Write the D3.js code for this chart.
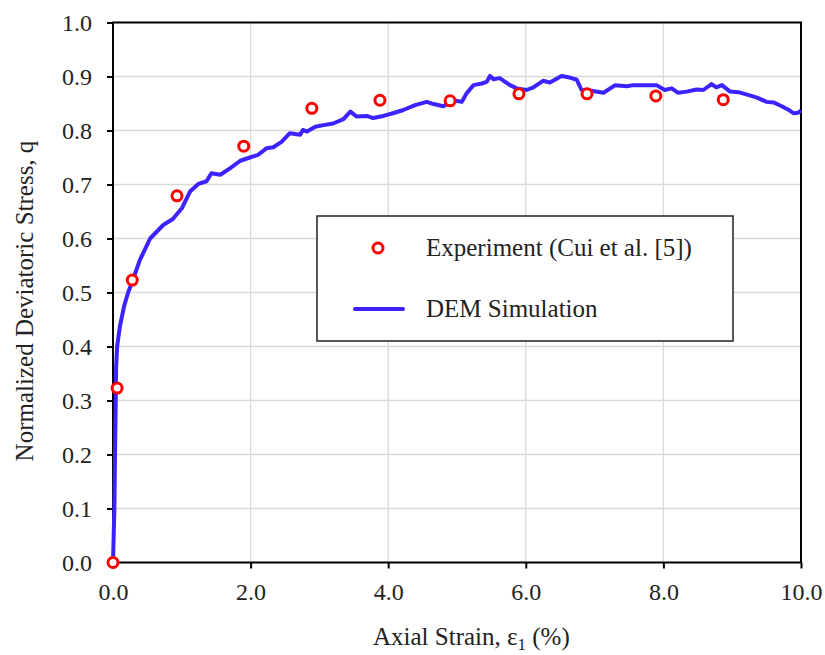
<!DOCTYPE html>
<html><head><meta charset="utf-8">
<script src="https://cdn.jsdelivr.net/npm/d3@7"></script>
<style>body{margin:0;background:#fff}svg{display:block}text{font-family:"Liberation Serif","Times New Roman",serif;fill:#222}</style>
</head><body><svg id="c" width="825" height="655"></svg>
<script>
const xTicks = [0,2,4,6,8,10];
const yTicks = [0,0.1,0.2,0.3,0.4,0.5,0.6,0.7,0.8,0.9,1.0];
const expStrain = [0,0.06,0.28,0.93,1.90,2.89,3.88,4.90,5.90,6.89,7.89,8.87];
const expStress = [0,0.323,0.523,0.679,0.771,0.841,0.856,0.855,0.868,0.868,0.864,0.857];
const demStrain = [0,0.02,0.03,0.04,0.045,0.06,0.10,0.16,0.22,0.28,0.39,0.54,0.73,0.87,1.0,1.12,1.24,1.36,1.43,1.56,1.70,1.85,1.99,2.11,2.23,2.33,2.45,2.57,2.72,2.76,2.82,2.94,3.06,3.20,3.35,3.45,3.54,3.69,3.78,3.93,4.07,4.22,4.39,4.56,4.66,4.80,4.95,5.07,5.14,5.24,5.36,5.43,5.48,5.53,5.62,5.77,5.87,6.01,6.11,6.25,6.35,6.52,6.64,6.74,6.81,6.93,7.13,7.30,7.47,7.56,7.71,7.90,8.02,8.12,8.21,8.34,8.48,8.58,8.70,8.77,8.85,8.97,9.09,9.23,9.36,9.50,9.60,9.72,9.81,9.89,9.96,10.0];
const demStress = [0,0.10,0.21,0.30,0.36,0.40,0.437,0.474,0.50,0.52,0.56,0.60,0.625,0.636,0.656,0.687,0.701,0.706,0.721,0.718,0.730,0.744,0.750,0.755,0.767,0.769,0.779,0.795,0.792,0.801,0.798,0.807,0.810,0.813,0.821,0.835,0.826,0.827,0.823,0.827,0.832,0.838,0.847,0.853,0.849,0.845,0.856,0.853,0.869,0.884,0.887,0.890,0.901,0.895,0.897,0.884,0.878,0.875,0.880,0.892,0.889,0.901,0.898,0.894,0.875,0.874,0.870,0.884,0.882,0.884,0.884,0.884,0.875,0.878,0.870,0.872,0.876,0.875,0.886,0.880,0.884,0.872,0.871,0.866,0.861,0.853,0.852,0.845,0.839,0.832,0.833,0.837];

const svg = d3.select("#c");
const x = d3.scaleLinear().domain([0,10]).range([113,801]);
const y = d3.scaleLinear().domain([0,1]).range([562.5,22.5]);

// grid
svg.append("g").selectAll("line").data(yTicks.slice(1,-1)).join("line")
  .attr("x1",x(0)).attr("x2",x(10)).attr("y1",d=>y(d)).attr("y2",d=>y(d))
  .attr("stroke","#d9d9d9").attr("stroke-width",1.3);
svg.append("g").selectAll("line").data(xTicks.slice(1,-1)).join("line")
  .attr("y1",y(0)).attr("y2",y(1)).attr("x1",d=>x(d)).attr("x2",d=>x(d))
  .attr("stroke","#d9d9d9").attr("stroke-width",1.3);

// axes
const xa = svg.append("g").attr("transform",`translate(0,${y(0)})`)
  .call(d3.axisBottom(x).tickValues(xTicks).tickFormat(d3.format(".1f")).tickSize(6).tickSizeOuter(0));
const ya = svg.append("g").attr("transform",`translate(${x(0)},0)`)
  .call(d3.axisLeft(y).tickValues(yTicks).tickFormat(d3.format(".1f")).tickSize(6).tickSizeOuter(0));
[xa,ya].forEach(g=>{
  g.select(".domain").remove();
  g.selectAll(".tick line").attr("stroke","#000").attr("stroke-width",2);
  g.selectAll(".tick text").attr("font-size",24).attr("fill","#222")
   .style("font-family",'"Liberation Serif","Times New Roman",serif');
});
xa.selectAll(".tick text").attr("dy",0).attr("y",37);
ya.selectAll(".tick text").attr("x",-21).attr("dy","0.34em");

// frame
svg.append("rect").attr("x",x(0)).attr("y",y(1)).attr("width",x(10)-x(0)).attr("height",y(0)-y(1))
  .attr("fill","none").attr("stroke","#000").attr("stroke-width",2);

// DEM line
const pts = demStrain.map((d,i)=>[d,demStress[i]]);
svg.append("path").datum(pts)
  .attr("d",d3.line().x(d=>x(d[0])).y(d=>y(d[1])))
  .attr("fill","none").attr("stroke","#3b22ff").attr("stroke-width",4).attr("stroke-linejoin","round");

// experiment
svg.append("g").selectAll("circle").data(expStrain.map((d,i)=>[d,expStress[i]])).join("circle")
  .attr("cx",d=>x(d[0])).attr("cy",d=>y(d[1])).attr("r",5)
  .attr("fill","#fff").attr("stroke","#ff0000").attr("stroke-width",3);

// legend
const lg = svg.append("g");
lg.append("rect").attr("x",317).attr("y",216).attr("width",416).attr("height",125)
  .attr("fill","#fff").attr("stroke","#222").attr("stroke-width",1.5);
lg.append("circle").attr("cx",378).attr("cy",248).attr("r",5).attr("fill","#fff").attr("stroke","#ff0000").attr("stroke-width",3);
lg.append("text").attr("x",426).attr("y",256).attr("font-size",25).text("Experiment (Cui et al. [5])");
lg.append("line").attr("x1",355).attr("x2",403).attr("y1",309).attr("y2",309)
  .attr("stroke","#3b22ff").attr("stroke-width",4).attr("stroke-linecap","round");
lg.append("text").attr("x",426).attr("y",317).attr("font-size",25).text("DEM Simulation");

// axis titles
const xt = svg.append("text").attr("x",373).attr("y",645).attr("font-size",25);
xt.append("tspan").text("Axial Strain, ε");
xt.append("tspan").attr("font-size",17).attr("dy",5).text("1");
xt.append("tspan").attr("dy",-5).text(" (%)");
svg.append("text").attr("transform","translate(33,301) rotate(-90)").attr("text-anchor","middle")
  .attr("font-size",25).text("Normalized Deviatoric Stress, q");
</script></body></html>
